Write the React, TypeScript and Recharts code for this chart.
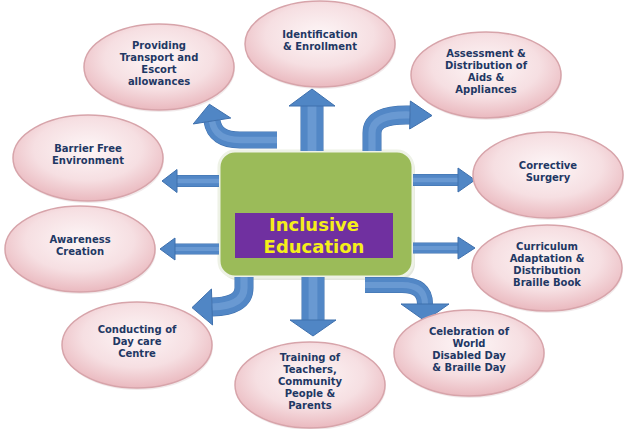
import React from "react";
import { ScatterChart, Scatter, XAxis, YAxis, ReferenceArea } from "recharts";

// outer activities, one per bubble
const nodeLabels = [
  "Identification\n& Enrollment",
  "Providing\nTransport and\nEscort\nallowances",
  "Assessment &\nDistribution of\nAids &\nAppliances",
  "Barrier Free\nEnvironment",
  "Corrective\nSurgery",
  "Awareness\nCreation",
  "Curriculum\nAdaptation &\nDistribution\nBraille Book",
  "Conducting of\nDay care\nCentre",
  "Training of\nTeachers,\nCommunity\nPeople &\nParents",
  "Celebration of\nWorld\nDisabled Day\n& Braille Day",
];
const nodeX = [320, 159, 486, 88, 548, 80, 547, 137, 310, 469];
const nodeY = [44, 67, 75, 158, 175, 249, 268, 345, 385, 353];

const hubTitle = ["Inclusive", "Education"];
const hubBox = [219, 151, 413, 277];
const titleBox = [235, 213, 393, 258];

// arrow centre lines: start, end of straight run, bend control, head base
const arrowStart = [[312, 151], [219, 181], [219, 249], [413, 180], [413, 248], [313, 277], [277, 140], [372, 151], [244, 277], [365, 285]];
const arrowRun = [null, null, null, null, null, null, [240, 140], [372, 133], [244, 288], [402, 285]];
const arrowBend = [null, null, null, null, null, null, [215, 140], [372, 114], [244, 306], [425, 285]];
const arrowEnd = [[312, 106], [177, 181], [175, 249], [458, 180], [458, 248], [313, 320], [212, 121], [410, 115], [212, 307], [425, 304]];

// [shaft width, head width, head length]
const arrowStyle = [
  [22, 46, 17], [11, 23, 15], [10, 22, 15], [11, 24, 17], [10, 22, 17],
  [22, 46, 16], [16, 38, 17], [18, 28, 22], [18, 36, 20], [15, 48, 17],
];

const W = 627;
const H = 429;
const TEXT = "#1f3864";
const FONT = "'DejaVu Sans', Verdana, sans-serif";

const nodes = nodeLabels.map((label, i) => ({ x: nodeX[i], y: nodeY[i], label }));
const arrows = arrowStart.map((s, i) => ({ x: s[0], y: s[1], i }));

function Bubble(props: any) {
  const { cx, cy, payload } = props;
  const lines: string[] = payload.label.split("\n");
  const lh = 12;
  const top = cy - 4 - ((lines.length - 1) * lh) / 2;
  return (
    <g>
      <ellipse cx={cx + 1} cy={cy + 2} rx={75} ry={43} fill="#e4d6d8" opacity={0.5} />
      <ellipse cx={cx} cy={cy} rx={75} ry={43} fill="url(#bubbleFill)" stroke="#d7a4aa" strokeWidth={1.5} />
      <text textAnchor="middle" fill={TEXT} fontFamily={FONT} fontWeight={700} fontSize={10}>
        {lines.map((l, j) => (
          <tspan key={j} x={cx} y={top + j * lh} dy="0.35em">
            {l}
          </tspan>
        ))}
      </text>
    </g>
  );
}

function Arrow(props: any) {
  const { cx, cy, payload } = props;
  const i = payload.i;
  // data units map 1:1 to pixels, offset from this point's pixel position
  const px = (p: number[]) => [cx + p[0] - arrowStart[i][0], cy + p[1] - arrowStart[i][1]];
  const s = px(arrowStart[i]);
  const e = px(arrowEnd[i]);
  const [shaft, headW, headL] = arrowStyle[i];
  let d = `M${s[0]},${s[1]}`;
  let from = s;
  if (arrowRun[i]) {
    const r = px(arrowRun[i] as number[]);
    const c = px(arrowBend[i] as number[]);
    d += ` L${r[0]},${r[1]} Q${c[0]},${c[1]} ${e[0]},${e[1]}`;
    from = c;
  } else {
    d += ` L${e[0]},${e[1]}`;
  }
  const dx = e[0] - from[0];
  const dy = e[1] - from[1];
  const len = Math.hypot(dx, dy) || 1;
  const ux = dx / len;
  const uy = dy / len;
  const nx = -uy;
  const ny = ux;
  const tip = [e[0] + ux * headL, e[1] + uy * headL];
  const head = [
    [e[0] + (nx * headW) / 2, e[1] + (ny * headW) / 2],
    tip,
    [e[0] - (nx * headW) / 2, e[1] - (ny * headW) / 2],
  ];
  return (
    <g>
      <path d={d} fill="none" stroke="#3f70ad" strokeWidth={shaft + 1} />
      <path d={d} fill="none" stroke="#5287c6" strokeWidth={shaft} />
      <path d={d} fill="none" stroke="#6f9dd4" strokeWidth={shaft * 0.4} opacity={0.8} />
      <polygon points={head.map((p) => p.join(",")).join(" ")} fill="#5086c5" stroke="#3f70ad" strokeWidth={1} />
    </g>
  );
}

function HubShape(props: any) {
  const { x, y, width, height } = props;
  return (
    <g>
      <defs>
        <radialGradient id="bubbleFill" cx="50%" cy="40%" r="60%">
          <stop offset="0%" stopColor="#fdf6f7" />
          <stop offset="60%" stopColor="#f6dfe2" />
          <stop offset="100%" stopColor="#eab9bf" />
        </radialGradient>
      </defs>
      <rect x={x + 2} y={y + 3} width={width} height={height} rx={16} fill="#c9cfc0" opacity={0.5} />
      <rect x={x} y={y} width={width} height={height} rx={16} fill="#9bbb59" stroke="#eef2e6" strokeWidth={3} />
    </g>
  );
}

function TitleShape(props: any) {
  const { x, y, width, height } = props;
  const mid = x + width / 2;
  return (
    <g>
      <rect x={x} y={y} width={width} height={height} fill="#7030a0" />
      {hubTitle.map((t, j) => (
        <text
          key={j}
          x={mid}
          y={y + 12 + j * 22}
          dy="0.35em"
          textAnchor="middle"
          fill="#f5ee1a"
          fontFamily={FONT}
          fontWeight={700}
          fontSize={18}
        >
          {t}
        </text>
      ))}
    </g>
  );
}

export default function App() {
  return (
    <div style={{ position: "absolute", left: 0, top: 0, width: W, height: H, background: "#fff" }}>
      <ScatterChart width={W} height={H} margin={{ top: 0, right: 0, bottom: 0, left: 0 }}>
        <XAxis type="number" dataKey="x" domain={[0, W]} hide />
        <YAxis type="number" dataKey="y" domain={[0, H]} reversed hide />
        <ReferenceArea
          x1={hubBox[0]}
          y1={hubBox[1]}
          x2={hubBox[2]}
          y2={hubBox[3]}
          shape={<HubShape />}
        />
        <Scatter data={arrows} shape={<Arrow />} isAnimationActive={false} />
        <ReferenceArea
          x1={titleBox[0]}
          y1={titleBox[1]}
          x2={titleBox[2]}
          y2={titleBox[3]}
          shape={<TitleShape />}
        />
        <Scatter data={nodes} shape={<Bubble />} isAnimationActive={false} />
      </ScatterChart>
    </div>
  );
}
